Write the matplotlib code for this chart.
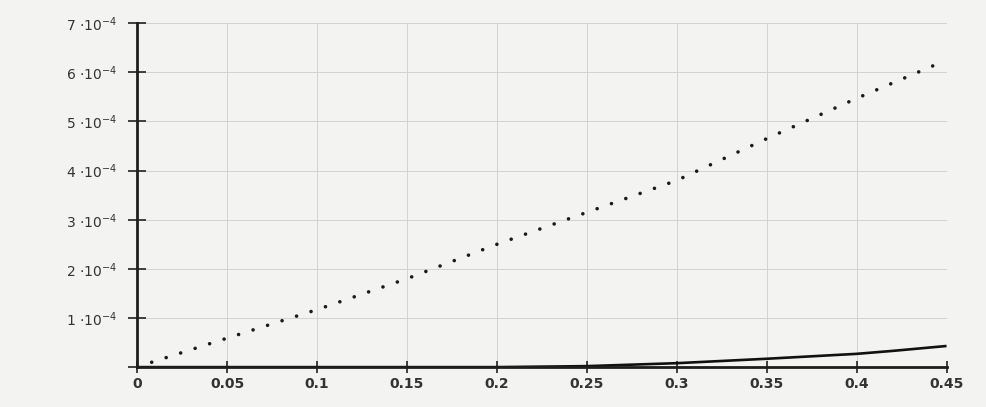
import matplotlib
matplotlib.use("Agg")
import matplotlib.pyplot as plt

# Trace data
x_dotted = [0.0, 0.05, 0.10, 0.15, 0.20, 0.25, 0.30, 0.35, 0.40, 0.45]
y_dotted = [0.005e-4, 0.59e-4, 1.17e-4, 1.80e-4, 2.50e-4, 3.15e-4, 3.80e-4, 4.65e-4, 5.47e-4, 6.25e-4]

x_solid = [0.0, 0.05, 0.10, 0.15, 0.20, 0.25, 0.30, 0.35, 0.40, 0.42, 0.45]
y_solid = [0.0, 0.0, 0.0, 0.0, 0.0, 0.02e-4, 0.08e-4, 0.17e-4, 0.27e-4, 0.33e-4, 0.43e-4]

# Axis ticks
xtick_values = [0.0, 0.05, 0.10, 0.15, 0.20, 0.25, 0.30, 0.35, 0.40, 0.45]
xtick_labels = ["0", "0.05", "0.1", "0.15", "0.2", "0.25", "0.3", "0.35", "0.4", "0.45"]
ytick_values = [0.0, 1e-4, 2e-4, 3e-4, 4e-4, 5e-4, 6e-4, 7e-4]
ytick_labels = ["", r"$1\ {\cdot}10^{-4}$", r"$2\ {\cdot}10^{-4}$", r"$3\ {\cdot}10^{-4}$",
                r"$4\ {\cdot}10^{-4}$", r"$5\ {\cdot}10^{-4}$", r"$6\ {\cdot}10^{-4}$",
                r"$7\ {\cdot}10^{-4}$"]

plt.rcParams["font.family"] = ["DejaVu Sans"]
plt.rcParams["mathtext.fontset"] = "dejavusans"

bg = "#f3f3f2"
fig = plt.figure(figsize=(9.87, 4.07), dpi=100, facecolor=bg)
ax = fig.add_axes([0.139, 0.098, 0.820, 0.845], facecolor=bg)

ax.plot(x_dotted, y_dotted, color="#1a1a1a", linewidth=2.6,
        linestyle=(0, (0.01, 4.2)), dash_capstyle="round", zorder=3)
ax.plot(x_solid, y_solid, color="#111111", linewidth=1.9,
        solid_capstyle="butt", zorder=4)

ax.set_xlim(0, 0.45)
ax.set_ylim(0, 7e-4)
ax.set_xticks(xtick_values)
ax.set_xticklabels(xtick_labels)
ax.set_yticks(ytick_values)
ax.set_yticklabels(ytick_labels)

ax.grid(True, color="#d2d2d2", linewidth=0.7)
ax.set_axisbelow(True)

for side in ("top", "right"):
    ax.spines[side].set_visible(False)
for side in ("left", "bottom"):
    ax.spines[side].set_linewidth(2.0)
    ax.spines[side].set_color("#1e1e1e")
    ax.spines[side].set_zorder(5)

ax.tick_params(axis="y", direction="inout", length=13, width=1.2, color="#222222",
               labelsize=10, labelcolor="#333333", pad=8)
ax.tick_params(axis="x", direction="inout", length=8, width=1.2, color="#222222",
               labelsize=10, labelcolor="#333333", pad=3)

for lbl in ax.get_xticklabels() + ax.get_yticklabels():
    lbl.set_fontweight("bold")

fig.savefig("out.png", dpi=100, facecolor=bg)
